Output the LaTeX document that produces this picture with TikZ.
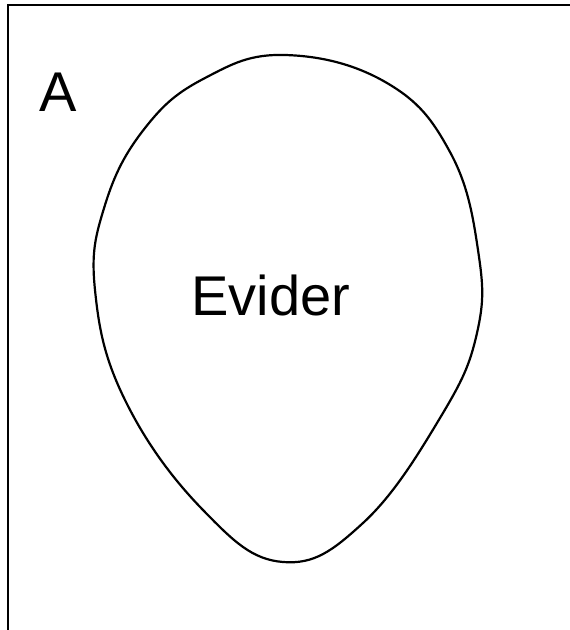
\documentclass[tikz,border=0pt]{standalone}
\usepackage{fontspec}
\setmainfont{Liberation Sans}
\usepackage{tikz}

\begin{document}
\begin{tikzpicture}[x=1pt, y=-1pt, line width=2.2pt,
    bigtext/.style={font=\fontsize{56}{60}\selectfont, inner sep=0pt}]
    \useasboundingbox (0,0) rectangle (570,630);

    % frame (top and left edge)
    \draw[line width=2.6pt] (570,5) -- (8,5) -- (8,630);

    % the set
    \draw plot[smooth cycle, tension=0.7] coordinates {
        (285,55) (387,83) (450,152) (478,250) (477,333) (440,418)
        (363,523) (283,562) (203,510) (125,400) (95,290) (105,205)
        (145,128) (205,78)};

    % labels
    \node[bigtext] (univ) at (58,92) {A};
    \node[bigtext] (evid) at (271,295) {Evider};
\end{tikzpicture}
\end{document}
